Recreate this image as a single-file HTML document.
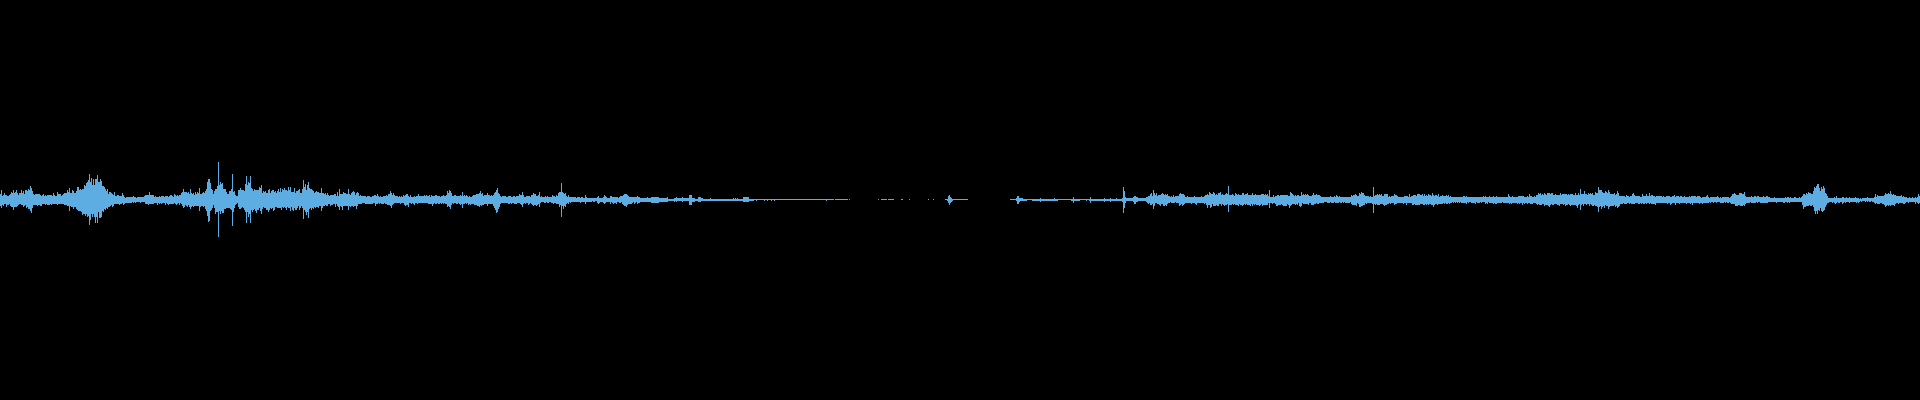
<!DOCTYPE html>
<html><head><meta charset="utf-8"><style>
html,body{margin:0;padding:0;background:#000;width:1920px;height:400px;overflow:hidden}
svg{display:block}
</style></head><body>
<svg width="1920" height="400" viewBox="0 0 1920 400" shape-rendering="crispEdges"><path fill="#5dade2" d="M0 194h1v12h-1zM1 190h1v18h-1zM2 196h1v9h-1zM3 195h1v11h-1zM4 193h1v11h-1zM5 195h1v9h-1zM6 195h1v12h-1zM7 196h2v9h-2zM9 195h1v9h-1zM10 194h1v12h-1zM11 192h1v15h-1zM12 193h1v14h-1zM13 190h1v20h-1zM14 193h1v14h-1zM15 192h1v15h-1zM16 190h1v17h-1zM17 193h1v13h-1zM18 195h1v10h-1zM19 193h2v11h-2zM21 190h1v15h-1zM22 193h1v12h-1zM23 191h1v16h-1zM24 194h1v12h-1zM25 190h1v15h-1zM26 190h1v18h-1zM27 191h1v16h-1zM28 189h1v20h-1zM29 190h1v19h-1zM30 186h1v25h-1zM31 188h1v25h-1zM32 191h1v17h-1zM33 194h1v11h-1zM34 195h1v10h-1zM35 194h2v11h-2zM37 194h1v12h-1zM38 194h2v11h-2zM40 195h1v11h-1zM41 196h1v10h-1zM42 195h1v9h-1zM43 194h1v10h-1zM44 196h1v8h-1zM45 195h1v10h-1zM46 196h1v8h-1zM47 195h3v10h-3zM50 195h1v9h-1zM51 195h1v10h-1zM52 196h1v8h-1zM53 193h1v11h-1zM54 195h1v9h-1zM55 196h2v8h-2zM57 192h1v13h-1zM58 194h3v10h-3zM61 196h1v8h-1zM62 195h1v9h-1zM63 194h1v10h-1zM64 193h3v12h-3zM67 190h1v16h-1zM68 192h1v14h-1zM69 188h1v23h-1zM70 193h1v13h-1zM71 193h1v14h-1zM72 190h1v17h-1zM73 191h1v18h-1zM74 193h2v14h-2zM76 191h1v18h-1zM77 187h1v23h-1zM78 187h1v24h-1zM79 190h1v21h-1zM80 189h1v22h-1zM81 190h1v22h-1zM82 189h1v26h-1zM83 189h1v25h-1zM84 185h1v29h-1zM85 186h1v30h-1zM86 183h1v31h-1zM87 182h1v35h-1zM88 180h1v36h-1zM89 174h1v51h-1zM90 182h1v38h-1zM91 178h1v36h-1zM92 185h1v32h-1zM93 179h1v35h-1zM94 185h1v32h-1zM95 179h1v44h-1zM96 179h1v38h-1zM97 175h1v48h-1zM98 182h1v30h-1zM99 182h1v36h-1zM100 179h1v39h-1zM101 181h1v36h-1zM102 186h1v25h-1zM103 186h1v26h-1zM104 187h1v22h-1zM105 189h1v21h-1zM106 191h1v17h-1zM107 189h1v20h-1zM108 194h1v13h-1zM109 192h1v15h-1zM110 192h1v14h-1zM111 193h1v12h-1zM112 194h1v13h-1zM113 195h1v11h-1zM114 192h1v12h-1zM115 196h2v8h-2zM117 195h2v9h-2zM119 196h1v9h-1zM120 196h2v8h-2zM122 193h1v10h-1zM123 195h1v10h-1zM124 197h1v7h-1zM125 198h1v5h-1zM126 197h6v6h-6zM132 197h1v5h-1zM133 196h1v7h-1zM134 197h1v5h-1zM135 197h1v6h-1zM136 198h1v4h-1zM137 197h3v5h-3zM140 197h1v6h-1zM141 197h3v5h-3zM144 196h1v6h-1zM145 195h3v9h-3zM148 195h1v10h-1zM149 192h1v12h-1zM150 195h4v9h-4zM154 197h1v6h-1zM155 196h1v7h-1zM156 197h1v6h-1zM157 197h1v8h-1zM158 197h1v6h-1zM159 196h1v8h-1zM160 197h1v6h-1zM161 196h1v8h-1zM162 196h2v7h-2zM164 197h1v6h-1zM165 196h1v9h-1zM166 196h1v7h-1zM167 196h1v8h-1zM168 197h1v8h-1zM169 196h1v8h-1zM170 195h2v9h-2zM172 196h1v8h-1zM173 197h1v7h-1zM174 194h1v9h-1zM175 195h1v9h-1zM176 196h1v9h-1zM177 195h1v9h-1zM178 196h1v7h-1zM179 195h1v10h-1zM180 195h1v8h-1zM181 193h1v11h-1zM182 192h1v14h-1zM183 189h1v19h-1zM184 192h1v15h-1zM185 192h1v13h-1zM186 192h1v14h-1zM187 193h1v14h-1zM188 192h1v13h-1zM189 194h1v13h-1zM190 189h1v20h-1zM191 193h1v14h-1zM192 194h1v12h-1zM193 193h1v14h-1zM194 195h1v11h-1zM195 192h1v14h-1zM196 194h1v12h-1zM197 192h1v14h-1zM198 193h1v13h-1zM199 188h1v23h-1zM200 194h1v13h-1zM201 194h1v12h-1zM202 193h1v13h-1zM203 192h1v15h-1zM204 193h1v13h-1zM205 191h1v18h-1zM206 189h1v22h-1zM207 182h1v34h-1zM208 179h1v43h-1zM209 179h1v42h-1zM210 183h1v28h-1zM211 189h1v21h-1zM212 190h1v18h-1zM213 194h1v11h-1zM214 191h1v17h-1zM215 189h1v25h-1zM216 189h1v23h-1zM217 186h1v26h-1zM218 162h1v75h-1zM219 185h1v26h-1zM220 182h1v32h-1zM221 184h1v27h-1zM222 183h1v30h-1zM223 189h1v24h-1zM224 189h2v20h-2zM226 192h1v16h-1zM227 194h2v14h-2zM229 191h1v17h-1zM230 191h1v18h-1zM231 189h1v21h-1zM232 174h1v52h-1zM233 192h1v20h-1zM234 191h1v17h-1zM235 195h1v10h-1zM236 196h1v8h-1zM237 196h1v7h-1zM238 190h1v17h-1zM239 190h1v19h-1zM240 188h1v21h-1zM241 190h1v18h-1zM242 190h1v17h-1zM243 190h1v18h-1zM244 191h1v19h-1zM245 184h1v28h-1zM246 176h1v47h-1zM247 185h1v27h-1zM248 182h1v35h-1zM249 183h1v31h-1zM250 176h1v47h-1zM251 188h1v22h-1zM252 189h1v23h-1zM253 191h1v19h-1zM254 189h1v20h-1zM255 190h1v21h-1zM256 190h1v23h-1zM257 190h2v20h-2zM259 187h1v21h-1zM260 188h1v23h-1zM261 185h1v29h-1zM262 193h1v16h-1zM263 191h1v16h-1zM264 192h1v16h-1zM265 191h1v17h-1zM266 193h2v17h-2zM268 190h1v22h-1zM269 189h1v21h-1zM270 193h1v15h-1zM271 191h1v18h-1zM272 190h1v18h-1zM273 190h1v21h-1zM274 192h1v18h-1zM275 191h1v16h-1zM276 193h1v14h-1zM277 191h1v17h-1zM278 189h1v19h-1zM279 192h1v16h-1zM280 188h1v20h-1zM281 192h1v18h-1zM282 189h1v18h-1zM283 190h1v18h-1zM284 188h1v19h-1zM285 190h1v18h-1zM286 190h1v20h-1zM287 191h1v16h-1zM288 187h1v21h-1zM289 190h1v18h-1zM290 187h1v24h-1zM291 192h1v15h-1zM292 192h1v18h-1zM293 192h1v19h-1zM294 188h1v20h-1zM295 193h1v17h-1zM296 191h1v19h-1zM297 191h1v17h-1zM298 190h1v16h-1zM299 189h1v21h-1zM300 193h1v15h-1zM301 193h1v13h-1zM302 189h1v19h-1zM303 180h1v39h-1zM304 187h1v23h-1zM305 184h1v28h-1zM306 190h1v25h-1zM307 185h1v27h-1zM308 182h1v36h-1zM309 188h1v21h-1zM310 189h1v19h-1zM311 189h1v21h-1zM312 190h1v18h-1zM313 191h1v18h-1zM314 193h1v14h-1zM315 192h1v16h-1zM316 191h1v16h-1zM317 192h1v15h-1zM318 192h1v16h-1zM319 193h2v13h-2zM321 188h1v23h-1zM322 193h1v15h-1zM323 193h1v13h-1zM324 194h1v12h-1zM325 193h1v12h-1zM326 195h1v11h-1zM327 193h1v13h-1zM328 195h1v9h-1zM329 196h1v8h-1zM330 195h1v11h-1zM331 195h2v10h-2zM333 195h1v9h-1zM334 194h1v10h-1zM335 194h1v13h-1zM336 196h1v8h-1zM337 192h1v14h-1zM338 196h1v11h-1zM339 189h1v21h-1zM340 194h1v12h-1zM341 194h1v13h-1zM342 194h1v16h-1zM343 192h1v14h-1zM344 193h2v13h-2zM346 194h2v12h-2zM348 189h1v21h-1zM349 194h1v12h-1zM350 195h1v12h-1zM351 193h1v13h-1zM352 192h1v14h-1zM353 191h1v16h-1zM354 192h1v14h-1zM355 195h1v11h-1zM356 193h1v16h-1zM357 192h1v14h-1zM358 193h1v11h-1zM359 196h1v8h-1zM360 195h1v9h-1zM361 196h1v8h-1zM362 196h3v7h-3zM365 196h1v8h-1zM366 197h1v7h-1zM367 196h3v8h-3zM370 197h2v7h-2zM372 196h1v8h-1zM373 196h1v7h-1zM374 195h1v8h-1zM375 195h1v11h-1zM376 196h1v8h-1zM377 194h1v10h-1zM378 196h1v7h-1zM379 197h1v7h-1zM380 196h1v7h-1zM381 197h2v7h-2zM383 196h1v8h-1zM384 196h1v7h-1zM385 196h1v8h-1zM386 195h1v9h-1zM387 196h1v9h-1zM388 194h2v11h-2zM390 191h1v15h-1zM391 193h1v15h-1zM392 195h1v10h-1zM393 193h1v11h-1zM394 195h1v8h-1zM395 196h3v7h-3zM398 197h1v6h-1zM399 196h1v7h-1zM400 197h1v7h-1zM401 196h1v7h-1zM402 197h1v6h-1zM403 195h1v8h-1zM404 196h1v9h-1zM405 195h1v11h-1zM406 194h2v11h-2zM408 196h1v11h-1zM409 197h1v6h-1zM410 195h1v8h-1zM411 197h1v7h-1zM412 197h1v6h-1zM413 197h1v7h-1zM414 196h1v9h-1zM415 197h1v6h-1zM416 196h1v7h-1zM417 196h1v8h-1zM418 194h1v9h-1zM419 196h5v7h-5zM424 195h1v8h-1zM425 196h1v7h-1zM426 195h1v8h-1zM427 196h1v7h-1zM428 196h1v8h-1zM429 195h1v9h-1zM430 197h1v7h-1zM431 195h1v9h-1zM432 196h1v10h-1zM433 196h1v8h-1zM434 196h1v7h-1zM435 195h2v9h-2zM437 196h1v7h-1zM438 196h2v8h-2zM440 197h1v6h-1zM441 196h1v8h-1zM442 196h1v7h-1zM443 195h1v9h-1zM444 196h1v7h-1zM445 196h1v8h-1zM446 195h1v9h-1zM447 191h1v16h-1zM448 193h1v13h-1zM449 190h1v17h-1zM450 191h1v18h-1zM451 193h1v12h-1zM452 196h1v7h-1zM453 196h1v8h-1zM454 195h2v8h-2zM456 196h2v8h-2zM458 196h1v7h-1zM459 196h1v8h-1zM460 195h1v10h-1zM461 196h1v8h-1zM462 192h1v16h-1zM463 196h1v8h-1zM464 195h1v9h-1zM465 196h1v7h-1zM466 195h1v9h-1zM467 196h1v7h-1zM468 197h1v8h-1zM469 196h1v8h-1zM470 197h1v8h-1zM471 197h1v7h-1zM472 196h1v8h-1zM473 195h1v9h-1zM474 195h2v10h-2zM476 194h1v11h-1zM477 194h2v12h-2zM479 193h1v14h-1zM480 191h1v14h-1zM481 194h1v12h-1zM482 193h1v12h-1zM483 196h1v9h-1zM484 195h3v9h-3zM487 193h1v13h-1zM488 195h2v9h-2zM490 196h1v8h-1zM491 195h1v9h-1zM492 196h1v8h-1zM493 195h1v11h-1zM494 193h1v15h-1zM495 192h1v18h-1zM496 190h1v23h-1zM497 188h1v24h-1zM498 193h1v16h-1zM499 194h1v13h-1zM500 196h1v8h-1zM501 197h1v6h-1zM502 196h4v7h-4zM506 197h2v6h-2zM508 196h2v8h-2zM510 196h1v7h-1zM511 197h1v7h-1zM512 197h1v6h-1zM513 196h1v7h-1zM514 196h1v8h-1zM515 197h1v7h-1zM516 196h1v8h-1zM517 196h2v7h-2zM519 194h1v9h-1zM520 195h1v9h-1zM521 195h1v10h-1zM522 192h1v15h-1zM523 195h1v9h-1zM524 197h1v6h-1zM525 197h1v7h-1zM526 196h2v7h-2zM528 196h1v9h-1zM529 196h1v8h-1zM530 197h1v6h-1zM531 195h1v9h-1zM532 195h1v10h-1zM533 193h1v13h-1zM534 194h2v11h-2zM536 196h1v10h-1zM537 196h1v9h-1zM538 195h1v9h-1zM539 192h1v15h-1zM540 197h1v6h-1zM541 196h1v6h-1zM542 197h2v5h-2zM544 197h1v6h-1zM545 196h1v7h-1zM546 197h1v5h-1zM547 196h1v7h-1zM548 197h1v6h-1zM549 197h2v5h-2zM551 197h1v6h-1zM552 195h1v8h-1zM553 196h1v8h-1zM554 196h1v7h-1zM555 197h1v6h-1zM556 195h1v9h-1zM557 196h1v8h-1zM558 193h1v11h-1zM559 192h1v15h-1zM560 192h1v13h-1zM561 183h1v34h-1zM562 192h1v14h-1zM563 193h1v16h-1zM564 194h1v12h-1zM565 193h1v14h-1zM566 196h1v8h-1zM567 197h1v6h-1zM568 195h1v9h-1zM569 197h1v5h-1zM570 197h1v6h-1zM571 197h5v5h-5zM576 198h1v4h-1zM577 197h3v5h-3zM580 198h1v5h-1zM581 197h2v5h-2zM583 198h2v4h-2zM585 195h1v9h-1zM586 197h1v5h-1zM587 198h5v4h-5zM592 198h1v3h-1zM593 198h2v4h-2zM595 198h2v3h-2zM597 197h1v6h-1zM598 196h1v8h-1zM599 198h1v5h-1zM600 198h3v4h-3zM603 197h1v6h-1zM604 195h1v9h-1zM605 196h1v7h-1zM606 197h1v5h-1zM607 198h3v4h-3zM610 196h1v8h-1zM611 196h1v6h-1zM612 197h1v6h-1zM613 197h1v7h-1zM614 197h2v6h-2zM616 197h1v7h-1zM617 197h1v5h-1zM618 198h1v4h-1zM619 197h1v6h-1zM620 196h1v7h-1zM621 196h1v6h-1zM622 196h1v8h-1zM623 195h1v10h-1zM624 194h2v12h-2zM626 194h1v13h-1zM627 195h1v10h-1zM628 196h1v8h-1zM629 197h3v7h-3zM632 197h1v6h-1zM633 197h1v5h-1zM634 197h1v7h-1zM635 197h1v6h-1zM636 197h1v5h-1zM637 196h1v8h-1zM638 197h2v6h-2zM640 198h7v4h-7zM647 197h1v5h-1zM648 198h3v4h-3zM651 197h8v6h-8zM659 198h8v4h-8zM667 197h1v5h-1zM668 199h6v2h-6zM674 198h1v4h-1zM675 198h1v3h-1zM676 197h1v5h-1zM677 198h5v3h-5zM682 197h1v5h-1zM683 198h6v3h-6zM689 195h3v10h-3zM692 198h3v4h-3zM695 199h3v2h-3zM698 197h3v5h-3zM701 198h2v3h-2zM703 199h7v2h-7zM710 198h1v3h-1zM711 199h22v2h-22zM733 198h1v3h-1zM734 199h1v2h-1zM735 198h1v3h-1zM736 199h1v2h-1zM737 198h1v3h-1zM738 199h5v2h-5zM743 197h6v5h-6zM749 199h5v2h-5zM754 199h2v1h-2zM756 199h1v2h-1zM757 199h7v1h-7zM764 199h1v2h-1zM765 199h2v1h-2zM767 199h1v2h-1zM768 199h3v1h-3zM771 199h1v2h-1zM772 199h2v1h-2zM774 199h1v2h-1zM775 199h51v1h-51zM826 199h1v2h-1zM827 199h7v1h-7zM835 199h13v1h-13zM849 199h1v1h-1zM878 199h1v1h-1zM881 199h6v1h-6zM888 199h6v1h-6zM901 199h2v1h-2zM909 199h1v1h-1zM928 199h1v1h-1zM933 199h1v1h-1zM945 199h2v1h-2zM947 199h1v2h-1zM948 196h1v7h-1zM949 195h1v10h-1zM950 197h1v6h-1zM951 198h1v4h-1zM952 199h1v2h-1zM953 199h15v1h-15zM1010 199h6v1h-6zM1016 198h1v3h-1zM1017 196h2v8h-2zM1019 198h1v4h-1zM1020 198h3v3h-3zM1023 199h4v2h-4zM1027 199h5v1h-5zM1032 199h8v2h-8zM1040 198h1v4h-1zM1041 199h13v2h-13zM1054 198h1v3h-1zM1055 199h3v2h-3zM1058 199h13v1h-13zM1071 199h2v2h-2zM1073 197h1v6h-1zM1074 199h6v2h-6zM1080 199h6v1h-6zM1086 199h1v2h-1zM1087 199h2v1h-2zM1089 199h1v2h-1zM1090 197h1v6h-1zM1091 199h13v2h-13zM1104 198h1v4h-1zM1105 199h5v2h-5zM1110 198h1v4h-1zM1111 199h5v2h-5zM1116 198h1v3h-1zM1117 199h5v2h-5zM1122 198h1v4h-1zM1123 187h1v26h-1zM1124 191h1v17h-1zM1125 197h1v6h-1zM1126 198h7v3h-7zM1133 197h1v5h-1zM1134 196h2v8h-2zM1136 197h2v5h-2zM1138 198h8v3h-8zM1146 197h1v5h-1zM1147 197h1v6h-1zM1148 196h1v8h-1zM1149 196h1v7h-1zM1150 194h1v11h-1zM1151 193h1v12h-1zM1152 196h1v8h-1zM1153 190h1v19h-1zM1154 193h1v13h-1zM1155 195h1v8h-1zM1156 193h1v10h-1zM1157 196h1v8h-1zM1158 195h1v9h-1zM1159 195h1v10h-1zM1160 195h1v11h-1zM1161 194h1v10h-1zM1162 193h1v11h-1zM1163 194h1v12h-1zM1164 195h1v11h-1zM1165 194h1v11h-1zM1166 195h1v11h-1zM1167 194h1v10h-1zM1168 196h2v7h-2zM1170 197h1v5h-1zM1171 196h1v7h-1zM1172 197h1v6h-1zM1173 195h1v8h-1zM1174 197h1v6h-1zM1175 196h1v6h-1zM1176 196h3v7h-3zM1179 194h1v12h-1zM1180 193h1v12h-1zM1181 194h1v10h-1zM1182 194h1v12h-1zM1183 194h1v11h-1zM1184 195h1v9h-1zM1185 197h2v6h-2zM1187 196h1v7h-1zM1188 197h3v6h-3zM1191 197h1v7h-1zM1192 197h2v6h-2zM1194 196h1v7h-1zM1195 197h1v7h-1zM1196 197h1v8h-1zM1197 197h4v6h-4zM1201 196h1v7h-1zM1202 197h2v6h-2zM1204 196h1v8h-1zM1205 195h1v8h-1zM1206 195h1v10h-1zM1207 194h1v14h-1zM1208 195h1v10h-1zM1209 192h1v13h-1zM1210 193h1v15h-1zM1211 194h1v13h-1zM1212 194h1v10h-1zM1213 192h1v14h-1zM1214 193h1v13h-1zM1215 195h1v11h-1zM1216 194h1v11h-1zM1217 195h1v11h-1zM1218 193h1v13h-1zM1219 193h1v11h-1zM1220 192h1v12h-1zM1221 195h1v11h-1zM1222 194h1v10h-1zM1223 195h1v10h-1zM1224 195h1v11h-1zM1225 194h1v11h-1zM1226 193h1v12h-1zM1227 194h1v10h-1zM1228 186h1v26h-1zM1229 195h3v10h-3zM1232 194h1v10h-1zM1233 195h1v10h-1zM1234 196h1v8h-1zM1235 193h1v12h-1zM1236 194h1v11h-1zM1237 195h1v10h-1zM1238 194h1v12h-1zM1239 195h1v9h-1zM1240 195h2v10h-2zM1242 193h1v13h-1zM1243 193h1v12h-1zM1244 195h1v9h-1zM1245 194h1v11h-1zM1246 194h1v10h-1zM1247 193h1v12h-1zM1248 195h2v10h-2zM1250 195h1v11h-1zM1251 195h1v9h-1zM1252 193h1v13h-1zM1253 195h1v9h-1zM1254 195h1v10h-1zM1255 194h1v10h-1zM1256 195h3v10h-3zM1259 195h1v11h-1zM1260 195h1v10h-1zM1261 194h1v10h-1zM1262 194h1v12h-1zM1263 194h1v11h-1zM1264 195h1v10h-1zM1265 194h1v11h-1zM1266 195h1v10h-1zM1267 194h1v11h-1zM1268 196h1v7h-1zM1269 190h1v18h-1zM1270 197h2v6h-2zM1272 197h1v7h-1zM1273 195h1v8h-1zM1274 197h1v6h-1zM1275 196h1v8h-1zM1276 196h1v10h-1zM1277 195h1v11h-1zM1278 195h1v10h-1zM1279 196h1v9h-1zM1280 195h1v10h-1zM1281 195h1v9h-1zM1282 195h1v10h-1zM1283 195h4v11h-4zM1287 195h1v9h-1zM1288 196h1v9h-1zM1289 196h1v12h-1zM1290 192h1v14h-1zM1291 193h1v12h-1zM1292 194h1v10h-1zM1293 195h1v9h-1zM1294 196h1v8h-1zM1295 195h1v10h-1zM1296 196h1v8h-1zM1297 195h1v10h-1zM1298 195h1v8h-1zM1299 196h1v10h-1zM1300 196h1v11h-1zM1301 192h1v14h-1zM1302 195h1v8h-1zM1303 194h1v10h-1zM1304 195h1v9h-1zM1305 194h1v10h-1zM1306 195h1v9h-1zM1307 194h1v10h-1zM1308 195h1v10h-1zM1309 196h2v7h-2zM1311 196h1v9h-1zM1312 195h1v10h-1zM1313 193h1v12h-1zM1314 195h2v9h-2zM1316 194h1v9h-1zM1317 195h2v9h-2zM1319 195h1v8h-1zM1320 196h1v7h-1zM1321 197h3v6h-3zM1324 197h3v5h-3zM1327 197h3v6h-3zM1330 196h1v6h-1zM1331 197h3v6h-3zM1334 196h1v6h-1zM1335 197h1v6h-1zM1336 195h1v8h-1zM1337 196h1v7h-1zM1338 197h1v6h-1zM1339 196h1v6h-1zM1340 197h2v6h-2zM1342 197h1v5h-1zM1343 197h1v6h-1zM1344 197h1v5h-1zM1345 197h5v6h-5zM1350 197h1v5h-1zM1351 195h1v9h-1zM1352 196h1v9h-1zM1353 195h2v10h-2zM1355 194h1v11h-1zM1356 195h1v11h-1zM1357 196h1v7h-1zM1358 196h1v8h-1zM1359 193h1v14h-1zM1360 194h1v13h-1zM1361 192h1v14h-1zM1362 193h1v13h-1zM1363 193h1v12h-1zM1364 195h1v10h-1zM1365 196h1v7h-1zM1366 196h1v8h-1zM1367 196h2v7h-2zM1369 197h1v6h-1zM1370 196h1v7h-1zM1371 197h1v6h-1zM1372 197h1v7h-1zM1373 187h1v26h-1zM1374 196h1v8h-1zM1375 195h1v10h-1zM1376 195h1v9h-1zM1377 194h1v11h-1zM1378 195h1v10h-1zM1379 194h1v11h-1zM1380 195h1v9h-1zM1381 194h1v10h-1zM1382 196h1v8h-1zM1383 196h1v9h-1zM1384 194h1v12h-1zM1385 194h2v11h-2zM1387 194h1v10h-1zM1388 197h1v7h-1zM1389 196h1v7h-1zM1390 197h1v7h-1zM1391 196h3v7h-3zM1394 194h1v11h-1zM1395 195h2v9h-2zM1397 196h1v7h-1zM1398 197h5v6h-5zM1403 197h1v7h-1zM1404 196h2v7h-2zM1406 196h1v9h-1zM1407 196h1v7h-1zM1408 197h1v6h-1zM1409 194h1v9h-1zM1410 197h1v6h-1zM1411 196h1v7h-1zM1412 196h1v9h-1zM1413 195h1v10h-1zM1414 195h1v9h-1zM1415 195h1v10h-1zM1416 196h1v9h-1zM1417 194h3v11h-3zM1420 195h2v9h-2zM1422 194h1v10h-1zM1423 196h1v9h-1zM1424 194h1v11h-1zM1425 196h1v8h-1zM1426 195h1v10h-1zM1427 196h1v8h-1zM1428 194h1v11h-1zM1429 195h2v9h-2zM1431 196h1v9h-1zM1432 193h1v12h-1zM1433 195h1v12h-1zM1434 196h1v9h-1zM1435 195h2v9h-2zM1437 196h1v9h-1zM1438 194h1v10h-1zM1439 197h1v7h-1zM1440 196h2v8h-2zM1442 195h1v9h-1zM1443 196h1v7h-1zM1444 196h1v8h-1zM1445 196h1v7h-1zM1446 195h1v9h-1zM1447 196h1v8h-1zM1448 195h1v8h-1zM1449 197h1v7h-1zM1450 196h1v7h-1zM1451 197h1v6h-1zM1452 197h1v5h-1zM1453 197h1v6h-1zM1454 197h1v5h-1zM1455 197h1v6h-1zM1456 197h1v5h-1zM1457 197h1v6h-1zM1458 197h1v5h-1zM1459 197h1v6h-1zM1460 197h1v5h-1zM1461 197h2v6h-2zM1463 196h2v7h-2zM1465 197h1v6h-1zM1466 196h1v8h-1zM1467 197h1v5h-1zM1468 197h1v6h-1zM1469 197h2v5h-2zM1471 197h4v6h-4zM1475 197h1v7h-1zM1476 197h1v5h-1zM1477 197h3v6h-3zM1480 197h1v5h-1zM1481 197h1v6h-1zM1482 197h1v5h-1zM1483 196h1v6h-1zM1484 197h1v5h-1zM1485 196h1v8h-1zM1486 197h1v6h-1zM1487 197h1v7h-1zM1488 197h1v5h-1zM1489 196h1v7h-1zM1490 197h3v6h-3zM1493 196h1v8h-1zM1494 197h1v6h-1zM1495 197h1v7h-1zM1496 196h1v8h-1zM1497 197h5v6h-5zM1502 197h1v5h-1zM1503 197h5v6h-5zM1508 194h1v9h-1zM1509 196h1v8h-1zM1510 197h1v6h-1zM1511 197h1v7h-1zM1512 196h1v7h-1zM1513 197h4v6h-4zM1517 197h1v7h-1zM1518 196h1v7h-1zM1519 196h1v8h-1zM1520 196h2v7h-2zM1522 196h1v9h-1zM1523 196h1v7h-1zM1524 197h1v7h-1zM1525 197h2v6h-2zM1527 196h1v8h-1zM1528 197h1v6h-1zM1529 194h1v9h-1zM1530 196h2v8h-2zM1532 197h1v7h-1zM1533 197h1v6h-1zM1534 196h1v7h-1zM1535 197h1v6h-1zM1536 195h1v9h-1zM1537 195h1v10h-1zM1538 193h1v11h-1zM1539 194h1v11h-1zM1540 193h1v12h-1zM1541 195h1v10h-1zM1542 194h1v10h-1zM1543 195h1v9h-1zM1544 193h1v13h-1zM1545 194h1v11h-1zM1546 195h1v10h-1zM1547 193h1v12h-1zM1548 193h1v13h-1zM1549 193h1v14h-1zM1550 194h1v11h-1zM1551 193h1v11h-1zM1552 193h1v12h-1zM1553 195h1v10h-1zM1554 195h1v9h-1zM1555 194h1v10h-1zM1556 195h1v9h-1zM1557 195h2v10h-2zM1559 195h1v11h-1zM1560 193h1v11h-1zM1561 195h1v9h-1zM1562 194h1v10h-1zM1563 194h1v11h-1zM1564 194h1v10h-1zM1565 194h1v12h-1zM1566 194h1v11h-1zM1567 195h1v10h-1zM1568 194h1v10h-1zM1569 195h1v10h-1zM1570 194h1v12h-1zM1571 194h2v11h-2zM1573 195h2v10h-2zM1575 193h1v12h-1zM1576 195h1v11h-1zM1577 195h1v13h-1zM1578 193h1v12h-1zM1579 195h1v9h-1zM1580 189h1v21h-1zM1581 194h1v11h-1zM1582 194h1v10h-1zM1583 194h1v12h-1zM1584 191h1v13h-1zM1585 194h1v10h-1zM1586 194h1v11h-1zM1587 195h1v9h-1zM1588 193h1v11h-1zM1589 194h1v12h-1zM1590 193h1v11h-1zM1591 194h1v11h-1zM1592 193h1v13h-1zM1593 195h1v11h-1zM1594 195h1v10h-1zM1595 192h1v14h-1zM1596 193h1v13h-1zM1597 193h1v14h-1zM1598 187h1v25h-1zM1599 190h1v17h-1zM1600 190h1v16h-1zM1601 190h1v19h-1zM1602 192h1v15h-1zM1603 193h1v13h-1zM1604 193h1v15h-1zM1605 191h1v14h-1zM1606 192h1v14h-1zM1607 193h1v13h-1zM1608 190h1v19h-1zM1609 192h1v15h-1zM1610 194h4v12h-4zM1614 193h1v12h-1zM1615 195h1v12h-1zM1616 194h1v12h-1zM1617 191h1v17h-1zM1618 193h1v14h-1zM1619 196h1v10h-1zM1620 196h3v8h-3zM1623 196h1v7h-1zM1624 196h1v8h-1zM1625 197h1v7h-1zM1626 195h1v9h-1zM1627 196h2v7h-2zM1629 197h1v7h-1zM1630 196h1v7h-1zM1631 196h1v8h-1zM1632 194h1v10h-1zM1633 193h1v11h-1zM1634 195h1v9h-1zM1635 196h3v7h-3zM1638 196h2v8h-2zM1640 197h1v6h-1zM1641 197h1v7h-1zM1642 194h1v9h-1zM1643 196h2v8h-2zM1645 196h1v7h-1zM1646 194h1v10h-1zM1647 196h2v7h-2zM1649 193h1v11h-1zM1650 196h1v7h-1zM1651 195h2v9h-2zM1653 196h2v8h-2zM1655 197h1v8h-1zM1656 196h6v7h-6zM1662 197h1v6h-1zM1663 196h1v7h-1zM1664 197h2v6h-2zM1666 196h1v7h-1zM1667 196h1v8h-1zM1668 196h2v7h-2zM1670 197h1v8h-1zM1671 197h1v7h-1zM1672 196h2v7h-2zM1674 195h1v8h-1zM1675 197h1v8h-1zM1676 196h3v7h-3zM1679 197h1v7h-1zM1680 196h2v7h-2zM1682 197h2v6h-2zM1684 196h1v7h-1zM1685 197h1v6h-1zM1686 197h1v7h-1zM1687 197h2v6h-2zM1689 196h1v7h-1zM1690 197h1v7h-1zM1691 196h1v7h-1zM1692 196h1v9h-1zM1693 196h3v7h-3zM1696 197h1v6h-1zM1697 196h2v7h-2zM1699 196h1v8h-1zM1700 197h1v6h-1zM1701 198h1v5h-1zM1702 197h1v7h-1zM1703 197h3v6h-3zM1706 196h1v7h-1zM1707 195h1v8h-1zM1708 197h1v6h-1zM1709 198h1v4h-1zM1710 197h1v6h-1zM1711 197h2v5h-2zM1713 197h1v6h-1zM1714 197h2v5h-2zM1716 197h1v6h-1zM1717 196h1v6h-1zM1718 197h1v5h-1zM1719 198h1v4h-1zM1720 197h1v6h-1zM1721 198h1v5h-1zM1722 197h2v6h-2zM1724 197h1v5h-1zM1725 197h1v6h-1zM1726 197h1v5h-1zM1727 197h2v6h-2zM1729 198h1v4h-1zM1730 197h1v6h-1zM1731 196h1v8h-1zM1732 194h2v10h-2zM1734 193h1v11h-1zM1735 194h1v12h-1zM1736 195h2v11h-2zM1738 195h1v10h-1zM1739 193h1v12h-1zM1740 193h2v13h-2zM1742 194h1v12h-1zM1743 194h1v11h-1zM1744 192h1v14h-1zM1745 196h1v8h-1zM1746 197h4v6h-4zM1750 197h1v5h-1zM1751 196h1v7h-1zM1752 197h2v6h-2zM1754 196h2v7h-2zM1756 197h1v5h-1zM1757 196h1v7h-1zM1758 196h1v6h-1zM1759 197h1v5h-1zM1760 197h3v6h-3zM1763 196h1v7h-1zM1764 197h2v6h-2zM1766 196h2v7h-2zM1768 197h2v5h-2zM1770 198h4v4h-4zM1774 197h1v5h-1zM1775 198h1v4h-1zM1776 198h1v5h-1zM1777 198h6v4h-6zM1783 198h2v5h-2zM1785 197h1v5h-1zM1786 198h1v4h-1zM1787 197h1v6h-1zM1788 197h1v5h-1zM1789 198h1v5h-1zM1790 197h1v5h-1zM1791 198h3v4h-3zM1794 197h2v5h-2zM1796 198h3v4h-3zM1799 197h1v5h-1zM1800 198h1v4h-1zM1801 197h1v5h-1zM1802 196h1v9h-1zM1803 194h1v15h-1zM1804 194h1v13h-1zM1805 195h1v12h-1zM1806 193h1v13h-1zM1807 194h1v12h-1zM1808 192h1v14h-1zM1809 193h1v12h-1zM1810 193h1v13h-1zM1811 194h1v12h-1zM1812 194h1v11h-1zM1813 191h1v16h-1zM1814 187h1v24h-1zM1815 188h1v26h-1zM1816 186h1v25h-1zM1817 184h1v30h-1zM1818 184h1v26h-1zM1819 188h1v23h-1zM1820 191h1v17h-1zM1821 187h1v24h-1zM1822 189h1v23h-1zM1823 186h1v25h-1zM1824 188h1v22h-1zM1825 193h1v14h-1zM1826 194h1v11h-1zM1827 196h1v7h-1zM1828 198h1v5h-1zM1829 198h3v4h-3zM1832 198h1v5h-1zM1833 198h1v4h-1zM1834 197h1v6h-1zM1835 198h1v6h-1zM1836 196h1v7h-1zM1837 198h1v4h-1zM1838 198h2v5h-2zM1840 198h2v4h-2zM1842 197h1v7h-1zM1843 197h1v6h-1zM1844 198h1v4h-1zM1845 198h1v5h-1zM1846 197h1v5h-1zM1847 198h2v4h-2zM1849 197h1v6h-1zM1850 198h5v4h-5zM1855 197h1v5h-1zM1856 198h1v5h-1zM1857 198h1v4h-1zM1858 198h1v5h-1zM1859 199h1v3h-1zM1860 198h1v3h-1zM1861 199h1v3h-1zM1862 198h3v3h-3zM1865 198h1v4h-1zM1866 198h1v3h-1zM1867 197h1v5h-1zM1868 198h1v3h-1zM1869 198h2v4h-2zM1871 198h1v3h-1zM1872 198h2v4h-2zM1874 197h1v6h-1zM1875 194h1v10h-1zM1876 197h1v6h-1zM1877 195h1v9h-1zM1878 196h2v8h-2zM1880 196h2v7h-2zM1882 196h2v8h-2zM1884 195h1v10h-1zM1885 193h1v14h-1zM1886 194h1v12h-1zM1887 194h1v11h-1zM1888 193h1v13h-1zM1889 194h1v11h-1zM1890 191h1v15h-1zM1891 194h1v11h-1zM1892 195h1v10h-1zM1893 194h1v11h-1zM1894 195h1v11h-1zM1895 195h1v9h-1zM1896 196h2v7h-2zM1898 196h1v8h-1zM1899 196h2v7h-2zM1901 195h1v8h-1zM1902 197h1v6h-1zM1903 196h1v8h-1zM1904 197h1v7h-1zM1905 197h1v6h-1zM1906 197h1v5h-1zM1907 198h1v4h-1zM1908 198h1v5h-1zM1909 197h1v5h-1zM1910 198h2v4h-2zM1912 197h1v5h-1zM1913 198h2v4h-2zM1915 197h1v7h-1zM1916 198h1v4h-1zM1917 197h1v6h-1zM1918 194h1v10h-1zM1919 196h1v7h-1z"/></svg>
</body></html>
